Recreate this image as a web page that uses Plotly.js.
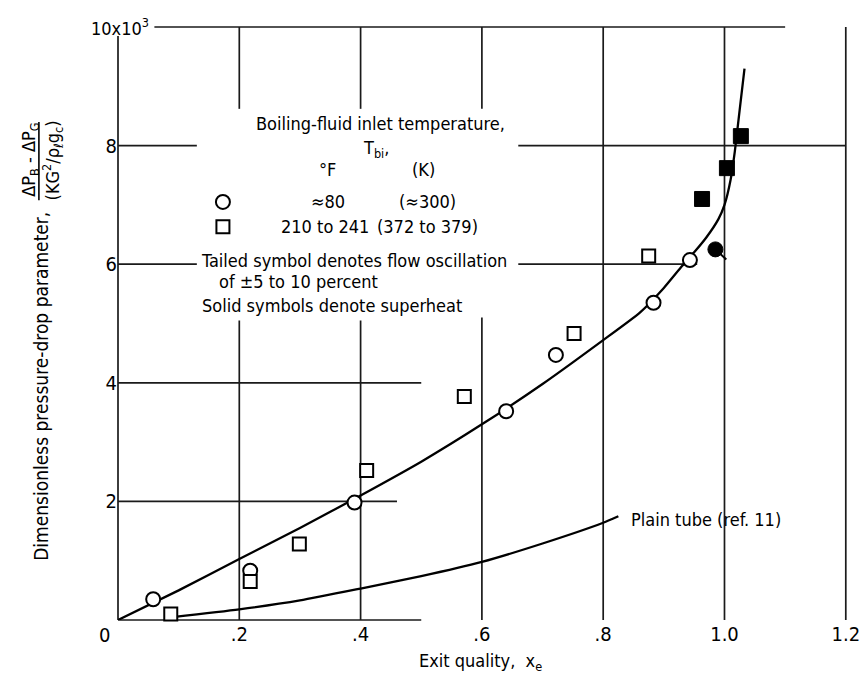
<!DOCTYPE html>
<html>
<head>
<meta charset="utf-8">
<script src="https://cdn.plot.ly/plotly-3.0.1.min.js"></script>
<style>
html,body{margin:0;padding:0;background:#fff;}
#chart{width:860px;height:674px;}
</style>
</head>
<body>
<div id="chart"></div>
<script>
// ---- data (y in units of 10^3) ----
var openCircleX = [0.058, 0.218, 0.39, 0.64, 0.722, 0.883, 0.943];
var openCircleY = [0.35, 0.83, 1.98, 3.52, 4.47, 5.35, 6.07];
var solidCircleX = [0.985];
var solidCircleY = [6.25];
var tailX = [0.985, 1.003];
var tailY = [6.25, 6.08];
var openSquareX = [0.087, 0.218, 0.299, 0.41, 0.571, 0.752, 0.875];
var openSquareY = [0.10, 0.65, 1.28, 2.52, 3.77, 4.83, 6.14];
var solidSquareX = [0.963, 1.004, 1.027];
var solidSquareY = [7.10, 7.62, 8.16];
var fitX = [0, 0.1, 0.2, 0.3, 0.4, 0.5, 0.6, 0.7, 0.8, 0.86, 0.9, 0.93, 0.95, 0.97, 0.99, 1.0, 1.01, 1.017, 1.025, 1.033];
var fitY = [0, 0.5, 1.03, 1.55, 2.1, 2.67, 3.3, 3.98, 4.72, 5.18, 5.6, 5.97, 6.2, 6.45, 6.76, 7.0, 7.42, 7.9, 8.6, 9.3];
var plainX = [0.09, 0.2, 0.3, 0.4, 0.5, 0.6, 0.7, 0.8, 0.825];
var plainY = [0.05, 0.18, 0.33, 0.53, 0.74, 0.98, 1.29, 1.64, 1.75];
var xTickVals = [0.2, 0.4, 0.6, 0.8, 1.0, 1.2];
var xTickText = ['.2', '.4', '.6', '.8', '1.0', '1.2'];
var yTickVals = [2, 4, 6, 8];
var yTickText = ['2', '4', '6', '8'];

var FONT = '"Liberation Sans Narrow", "DejaVu Sans Condensed", "Arial Narrow", sans-serif';
var XMAX = 1.202, YMAX = 10;

// partial grid segments [x0, y0, x1, y1] in axis units
var gridSegs = [
  [0, 0, 0, 9.85],
  [0, 0, 0.5, 0],
  [0.06, 10, 1.10, 10],
  [0, 8, 0.13, 8], [0.66, 8, 1.2, 8],
  [0, 6, 0.13, 6], [0.66, 6, 0.955, 6],
  [0, 4, 0.50, 4],
  [0, 2, 0.46, 2],
  [0.2, 10, 0.2, 8.62], [0.2, 5.05, 0.2, 0],
  [0.4, 10, 0.4, 8.62], [0.4, 5.05, 0.4, 0],
  [0.6, 10, 0.6, 8.62], [0.6, 5.1, 0.6, 0],
  [0.8, 10, 0.8, 0],
  [1.0, 10, 1.0, 0],
  [1.2, 10, 1.2, 0]
];
var shapes = gridSegs.map(function(s){
  return {type:'line', xref:'paper', yref:'paper',
    x0:s[0]/XMAX, y0:s[1]/YMAX, x1:s[2]/XMAX, y1:s[3]/YMAX,
    line:{color:'#1a1a1a', width:1.7}, layer:'below'};
});
// legend key symbols
shapes.push({type:'circle', xref:'x', yref:'y', xsizemode:'pixel', ysizemode:'pixel',
  xanchor:0.173, yanchor:7.05, x0:-7, x1:7, y0:-7, y1:7, line:{color:'#000', width:2}});
shapes.push({type:'rect', xref:'x', yref:'y', xsizemode:'pixel', ysizemode:'pixel',
  xanchor:0.173, yanchor:6.63, x0:-6.5, x1:6.5, y0:-6.5, y1:6.5, line:{color:'#000', width:2}});
// fraction bar of y title
shapes.push({type:'line', xref:'paper', yref:'paper', x0:-0.1085, x1:-0.1085, y0:0.708, y1:0.840,
  line:{color:'#000', width:1.6}});

function ann(text, x, y, opts){
  var a = {text:text, x:x, y:y, xref:'x', yref:'y', showarrow:false,
    font:{family:FONT, size:18, color:'#000'}, xanchor:'center', yanchor:'middle'};
  for (var k in (opts||{})) a[k] = opts[k];
  return a;
}
var annotations = [
  ann('Boiling-fluid inlet temperature,', 0.432, 8.38),
  ann('T<sub>bi</sub>,', 0.425, 7.95),
  ann('°F', 0.346, 7.59),
  ann('(K)', 0.504, 7.59),
  ann('≈80', 0.346, 7.05),
  ann('(≈300)', 0.51, 7.05),
  ann('210 to 241', 0.342, 6.63),
  ann('(372 to 379)', 0.51, 6.63),
  ann('Tailed symbol denotes flow oscillation', 0.133, 6.07, {xanchor:'left'}),
  ann('of ±5 to 10 percent', 0.163, 5.70, {xanchor:'left'}),
  ann('Solid symbols denote superheat', 0.135, 5.31, {xanchor:'left'}),
  ann('Plain tube (ref. 11)', 0.842, 1.69, {xanchor:'left'}),
  ann('10x10<sup>3</sup>', 0.0453, 1.0, {xref:'paper', yref:'paper', xanchor:'right', font:{family:FONT, size:18, color:'#000'}}),
  ann('0', -0.018, -0.026, {xref:'paper', yref:'paper', font:{family:FONT, size:20, color:'#000'}}),
  ann('Exit quality,  x<sub>e</sub>', 0.497, -0.0715, {xref:'paper', yref:'paper', font:{family:FONT, size:18, color:'#000'}}),
  ann('Dimensionless pressure-drop parameter,', -0.1058, 0.3946, {xref:'paper', yref:'paper', textangle:-90, font:{family:FONT, size:19, color:'#000'}}),
  ann('ΔP<sub>B</sub> - ΔP<sub>G</sub>', -0.1209, 0.7757, {xref:'paper', yref:'paper', textangle:-90, font:{family:FONT, size:18, color:'#000'}}),
  ann('(KG<sup>2</sup>/ρ<sub>ℓ</sub>g<sub>c</sub>)', -0.090, 0.7757, {xref:'paper', yref:'paper', textangle:-90, font:{family:FONT, size:18, color:'#000'}})
];

var traces = [
  {x:fitX, y:fitY, mode:'lines', line:{color:'#000', width:2.3, shape:'spline', smoothing:0.5}, hoverinfo:'skip'},
  {x:plainX, y:plainY, mode:'lines', line:{color:'#000', width:2.3, shape:'spline', smoothing:0.6}, hoverinfo:'skip'},
  {x:tailX, y:tailY, mode:'lines', line:{color:'#000', width:2}, cliponaxis:false},
  {x:openCircleX, y:openCircleY, mode:'markers', cliponaxis:false,
    marker:{symbol:'circle', size:14, color:'#fff', line:{color:'#000', width:2}}},
  {x:openSquareX, y:openSquareY, mode:'markers', cliponaxis:false,
    marker:{symbol:'square', size:13, color:'#fff', line:{color:'#000', width:2}}},
  {x:solidCircleX, y:solidCircleY, mode:'markers', cliponaxis:false,
    marker:{symbol:'circle', size:15, color:'#000', line:{color:'#000', width:1}}},
  {x:solidSquareX, y:solidSquareY, mode:'markers', cliponaxis:false,
    marker:{symbol:'square', size:15, color:'#000', line:{color:'#000', width:1}}}
];

var layout = {
  width:860, height:674,
  margin:{l:118, r:13, t:27, b:54},
  paper_bgcolor:'#fff', plot_bgcolor:'#fff',
  showlegend:false,
  font:{family:FONT, color:'#000'},
  xaxis:{range:[0, XMAX], showgrid:false, zeroline:false, showline:false,
    tickmode:'array', tickvals:xTickVals, ticktext:xTickText, ticklabeloverflow:'allow',
    ticks:'', tickfont:{family:FONT, size:20, color:'#000'}},
  yaxis:{range:[0, YMAX], showgrid:false, zeroline:false, showline:false,
    tickmode:'array', tickvals:yTickVals, ticktext:yTickText,
    ticks:'', tickfont:{family:FONT, size:20, color:'#000'}},
  shapes:shapes,
  annotations:annotations
};
Plotly.newPlot('chart', traces, layout, {displayModeBar:false, staticPlot:true});
</script>
</body>
</html>
